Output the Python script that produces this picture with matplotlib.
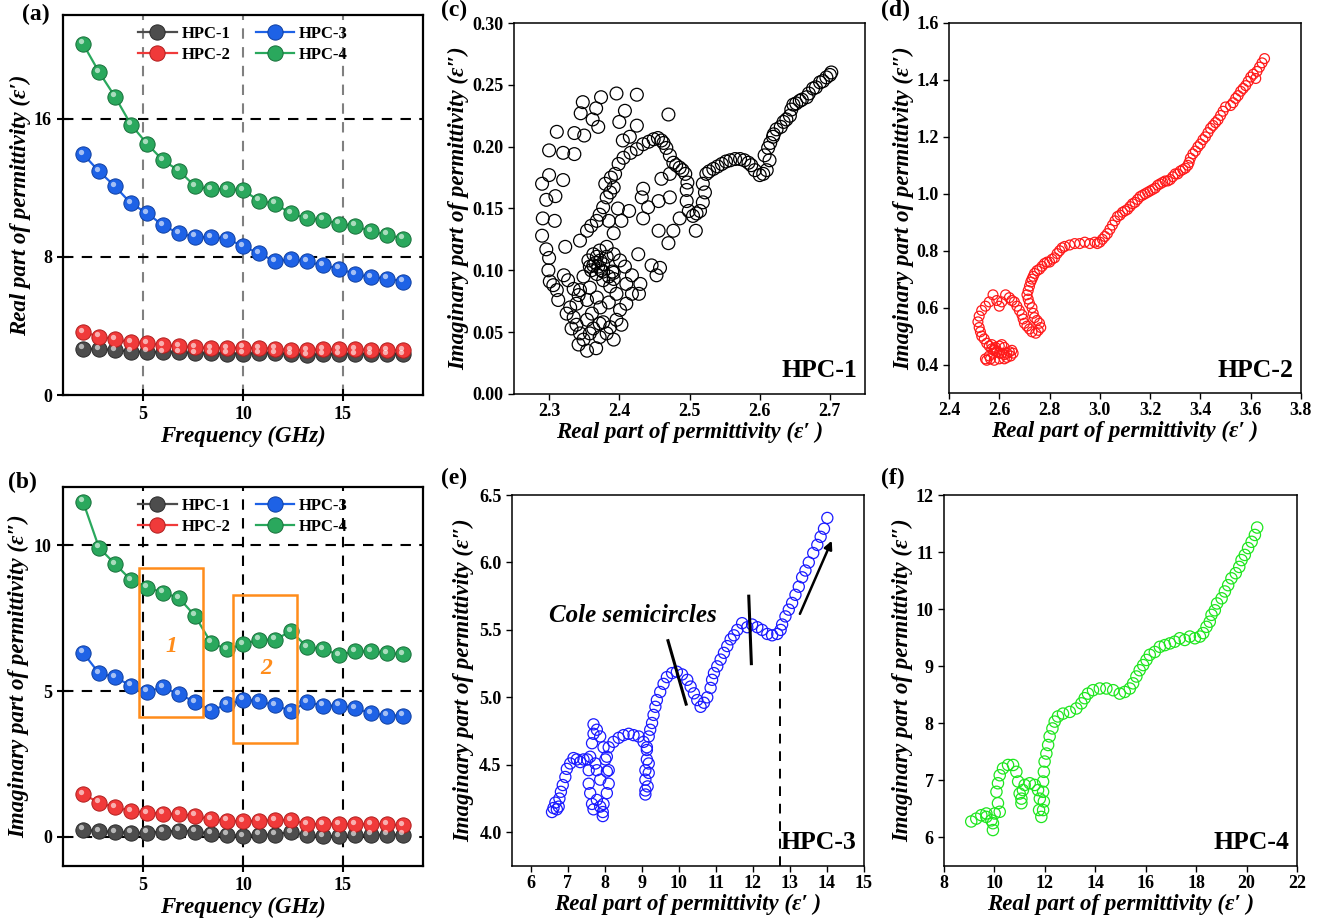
import numpy as np
import matplotlib
matplotlib.use("Agg")
import matplotlib.pyplot as plt
from matplotlib.transforms import offset_copy
from matplotlib.patches import Rectangle

plt.rcParams['font.family'] = ['Liberation Serif', 'DejaVu Serif']
plt.rcParams['font.weight'] = 'bold'

# ---- data: panels (a), (b) ----
freq = [2.0, 2.8, 3.6, 4.4, 5.2, 6.0, 6.8, 7.6, 8.4, 9.2, 10.0,
        10.8, 11.6, 12.4, 13.2, 14.0, 14.8, 15.6, 16.4, 17.2, 18.0]
samples = ['HPC-1', 'HPC-2', 'HPC-3', 'HPC-4']

real_hpc1 = [2.69, 2.65, 2.61, 2.51, 2.50, 2.47, 2.47, 2.42, 2.42, 2.39, 2.39,
             2.42, 2.42, 2.36, 2.32, 2.36, 2.36, 2.38, 2.36, 2.38, 2.36]
real_hpc2 = [3.65, 3.38, 3.23, 3.05, 3.00, 2.88, 2.82, 2.76, 2.72, 2.72, 2.74,
             2.72, 2.68, 2.59, 2.61, 2.64, 2.64, 2.64, 2.61, 2.59, 2.59]
real_hpc3 = [13.95, 12.95, 12.08, 11.09, 10.53, 9.82, 9.35, 9.16, 9.12, 9.06, 8.60,
             8.21, 7.73, 7.86, 7.73, 7.50, 7.32, 7.00, 6.82, 6.74, 6.57]
real_hpc4 = [20.33, 18.70, 17.27, 15.65, 14.55, 13.58, 12.99, 12.08, 11.92, 11.92, 11.86,
             11.25, 11.07, 10.51, 10.22, 10.14, 9.91, 9.80, 9.47, 9.28, 9.06]

imag_hpc1 = [0.25, 0.19, 0.17, 0.14, 0.14, 0.18, 0.21, 0.18, 0.11, 0.07, 0.03,
             0.07, 0.08, 0.17, 0.05, 0.03, 0.02, 0.05, 0.07, 0.07, 0.07]
imag_hpc2 = [1.47, 1.17, 1.01, 0.89, 0.82, 0.80, 0.78, 0.72, 0.60, 0.55, 0.53,
             0.56, 0.57, 0.58, 0.44, 0.44, 0.44, 0.44, 0.44, 0.43, 0.39]
imag_hpc3 = [6.32, 5.61, 5.48, 5.18, 4.98, 5.13, 4.89, 4.63, 4.33, 4.54, 4.70,
             4.66, 4.51, 4.32, 4.62, 4.50, 4.50, 4.41, 4.24, 4.16, 4.16]
imag_hpc4 = [11.50, 9.92, 9.36, 8.81, 8.55, 8.38, 8.19, 7.58, 6.66, 6.43, 6.61,
             6.76, 6.76, 7.06, 6.51, 6.44, 6.24, 6.36, 6.36, 6.30, 6.27]

# ---- data: Cole-Cole plots (eps', eps'') ----
cole_hpc1 = [
    (2.702, 0.260), (2.700, 0.258), (2.695, 0.256), (2.690, 0.253), (2.686, 0.252),
    (2.680, 0.248), (2.676, 0.247), (2.670, 0.243), (2.667, 0.240), (2.660, 0.238),
    (2.657, 0.237), (2.652, 0.235), (2.648, 0.234), (2.645, 0.230), (2.643, 0.225),
    (2.638, 0.222), (2.634, 0.220), (2.630, 0.216), (2.624, 0.214), (2.620, 0.210),
    (2.619, 0.208), (2.615, 0.203), (2.612, 0.199), (2.607, 0.193), (2.614, 0.189),
    (2.610, 0.181), (2.605, 0.178), (2.600, 0.177), (2.593, 0.181), (2.588, 0.185),
    (2.584, 0.187), (2.578, 0.189), (2.572, 0.190), (2.565, 0.190), (2.558, 0.189),
    (2.552, 0.188), (2.546, 0.186), (2.540, 0.184), (2.534, 0.182), (2.528, 0.180),
    (2.524, 0.178), (2.519, 0.170), (2.522, 0.163), (2.519, 0.155), (2.515, 0.148),
    (2.510, 0.146), (2.505, 0.144), (2.499, 0.148), (2.496, 0.156), (2.496, 0.165),
    (2.497, 0.171), (2.494, 0.178), (2.490, 0.181), (2.486, 0.183), (2.481, 0.185),
    (2.477, 0.187), (2.472, 0.193), (2.467, 0.199), (2.463, 0.203), (2.460, 0.205),
    (2.455, 0.207), (2.449, 0.206), (2.442, 0.204), (2.434, 0.202), (2.425, 0.198),
    (2.416, 0.195), (2.406, 0.191), (2.399, 0.186), (2.394, 0.178), (2.392, 0.167),
    (2.387, 0.163), (2.382, 0.159), (2.377, 0.151), (2.372, 0.145), (2.368, 0.140),
    (2.360, 0.136), (2.354, 0.132), (2.344, 0.124), (2.380, 0.170), (2.388, 0.175),
    (2.385, 0.140), (2.392, 0.130), (2.398, 0.150), (2.403, 0.140),
    (2.350, 0.209), (2.336, 0.211), (2.311, 0.212), (2.336, 0.194), (2.320, 0.195),
    (2.300, 0.197), (2.320, 0.173), (2.300, 0.177), (2.290, 0.170), (2.309, 0.160),
    (2.296, 0.157), (2.291, 0.142), (2.308, 0.140), (2.290, 0.128), (2.296, 0.117),
    (2.323, 0.119), (2.300, 0.110), (2.299, 0.100), (2.306, 0.088), (2.313, 0.076),
    (2.321, 0.096), (2.335, 0.085), (2.342, 0.080), (2.301, 0.091), (2.311, 0.084),
    (2.327, 0.092),
    (2.348, 0.236), (2.345, 0.227), (2.374, 0.240), (2.367, 0.231), (2.362, 0.222),
    (2.370, 0.216), (2.396, 0.243), (2.425, 0.242), (2.408, 0.229), (2.400, 0.220),
    (2.425, 0.217), (2.470, 0.226), (2.415, 0.208), (2.405, 0.205),
    (2.434, 0.166), (2.432, 0.159), (2.441, 0.151), (2.434, 0.142), (2.414, 0.148),
    (2.456, 0.132), (2.477, 0.132), (2.470, 0.122), (2.460, 0.174), (2.472, 0.178),
    (2.472, 0.159), (2.486, 0.142), (2.509, 0.132), (2.456, 0.156), (2.427, 0.113),
    (2.446, 0.104), (2.458, 0.102), (2.453, 0.096), (2.430, 0.089), (2.428, 0.081),
    (2.330, 0.070), (2.335, 0.062), (2.339, 0.056), (2.344, 0.049), (2.349, 0.044),
    (2.342, 0.040), (2.354, 0.035), (2.367, 0.037), (2.372, 0.046), (2.382, 0.049),
    (2.392, 0.044), (2.387, 0.054), (2.396, 0.060), (2.403, 0.056), (2.401, 0.068),
    (2.410, 0.073), (2.418, 0.081), (2.410, 0.089), (2.418, 0.096), (2.408, 0.103),
    (2.401, 0.108), (2.392, 0.113), (2.382, 0.119), (2.372, 0.116), (2.363, 0.113),
    (2.356, 0.108), (2.358, 0.103), (2.368, 0.097), (2.377, 0.092), (2.387, 0.087),
    (2.396, 0.081), (2.385, 0.074), (2.373, 0.070), (2.361, 0.065), (2.354, 0.060),
    (2.363, 0.053), (2.377, 0.058), (2.368, 0.078), (2.358, 0.086), (2.349, 0.095),
    (2.344, 0.084), (2.354, 0.076), (2.339, 0.073), (2.325, 0.065), (2.332, 0.053),
    (2.358, 0.049), (2.372, 0.057), (2.368, 0.111), (2.373, 0.108), (2.377, 0.105),
    (2.382, 0.111), (2.370, 0.103), (2.363, 0.104), (2.390, 0.099), (2.392, 0.093),
    (2.385, 0.095), (2.377, 0.099), (2.360, 0.100), (2.366, 0.106), (2.374, 0.100),
    (2.392, 0.098),
]

cole_hpc2 = [
    (3.655, 1.475), (3.645, 1.460), (3.635, 1.445), (3.625, 1.430), (3.620, 1.405),
    (3.610, 1.420), (3.600, 1.410), (3.590, 1.395), (3.580, 1.380), (3.570, 1.370),
    (3.560, 1.360), (3.550, 1.345), (3.540, 1.335), (3.530, 1.320), (3.520, 1.310),
    (3.500, 1.305), (3.490, 1.290), (3.480, 1.275), (3.470, 1.260), (3.460, 1.250),
    (3.450, 1.240), (3.440, 1.230), (3.430, 1.215), (3.420, 1.200), (3.410, 1.190),
    (3.400, 1.175), (3.390, 1.165), (3.380, 1.150), (3.370, 1.140), (3.360, 1.125),
    (3.355, 1.110), (3.350, 1.100), (3.340, 1.090), (3.330, 1.085), (3.320, 1.080),
    (3.310, 1.070), (3.300, 1.070), (3.290, 1.060), (3.280, 1.050), (3.270, 1.045),
    (3.260, 1.045), (3.250, 1.040), (3.240, 1.035), (3.230, 1.030), (3.220, 1.020),
    (3.210, 1.015), (3.200, 1.010), (3.190, 1.005), (3.180, 1.000), (3.170, 0.995),
    (3.160, 0.990), (3.150, 0.980), (3.140, 0.970), (3.130, 0.965), (3.120, 0.955),
    (3.110, 0.945), (3.100, 0.940), (3.090, 0.935), (3.080, 0.925), (3.070, 0.920),
    (3.060, 0.905), (3.050, 0.890), (3.040, 0.875), (3.030, 0.860), (3.020, 0.850),
    (3.010, 0.840), (3.000, 0.830), (2.990, 0.825), (2.980, 0.830), (2.960, 0.825),
    (2.940, 0.830), (2.920, 0.825), (2.900, 0.825), (2.880, 0.820), (2.860, 0.815),
    (2.850, 0.810), (2.840, 0.800), (2.830, 0.790), (2.820, 0.775), (2.810, 0.770),
    (2.800, 0.760), (2.790, 0.760), (2.780, 0.755), (2.770, 0.745), (2.760, 0.735),
    (2.750, 0.730), (2.740, 0.720), (2.735, 0.710), (2.730, 0.700), (2.725, 0.690),
    (2.720, 0.675), (2.715, 0.660), (2.710, 0.645), (2.715, 0.630), (2.720, 0.615),
    (2.730, 0.600), (2.735, 0.580), (2.740, 0.565), (2.750, 0.555), (2.760, 0.545),
    (2.765, 0.530), (2.755, 0.520), (2.745, 0.510), (2.730, 0.515), (2.720, 0.525),
    (2.710, 0.535), (2.700, 0.545), (2.695, 0.560), (2.690, 0.575), (2.680, 0.590),
    (2.670, 0.605), (2.660, 0.620), (2.650, 0.625), (2.640, 0.635), (2.625, 0.645),
    (2.610, 0.620), (2.600, 0.605), (2.590, 0.625), (2.575, 0.645), (2.560, 0.620),
    (2.545, 0.605), (2.530, 0.590), (2.520, 0.570), (2.515, 0.550), (2.520, 0.530),
    (2.525, 0.515), (2.530, 0.500), (2.540, 0.490), (2.550, 0.475), (2.560, 0.465),
    (2.570, 0.455), (2.580, 0.450), (2.590, 0.445), (2.600, 0.440), (2.610, 0.440),
    (2.620, 0.435), (2.630, 0.440), (2.640, 0.445), (2.650, 0.450), (2.655, 0.440),
    (2.645, 0.430), (2.630, 0.425), (2.620, 0.420), (2.600, 0.420), (2.580, 0.415),
    (2.565, 0.420), (2.550, 0.415), (2.545, 0.420), (2.560, 0.430), (2.575, 0.440),
    (2.580, 0.455), (2.570, 0.470), (2.585, 0.460), (2.600, 0.465), (2.610, 0.470),
    (2.620, 0.460),
]

cole_hpc3 = [
    (14.01, 6.33), (13.92, 6.25), (13.83, 6.19), (13.74, 6.13), (13.63, 6.07),
    (13.51, 6.00), (13.42, 5.94), (13.33, 5.89), (13.24, 5.82), (13.15, 5.76),
    (13.06, 5.70), (12.97, 5.65), (12.88, 5.60), (12.79, 5.54), (12.75, 5.50),
    (12.66, 5.47), (12.52, 5.46), (12.39, 5.47), (12.25, 5.50), (12.12, 5.52),
    (11.98, 5.54), (11.85, 5.52), (11.71, 5.55), (11.58, 5.50), (11.49, 5.46),
    (11.40, 5.43), (11.31, 5.38), (11.22, 5.33), (11.13, 5.28), (11.04, 5.23),
    (10.95, 5.18), (10.90, 5.13), (10.86, 5.07), (10.77, 5.00), (10.68, 4.96),
    (10.59, 4.93), (10.50, 4.98), (10.41, 5.03), (10.32, 5.08), (10.23, 5.13),
    (10.09, 5.17), (9.95, 5.19), (9.82, 5.18), (9.68, 5.15), (9.59, 5.10),
    (9.50, 5.04), (9.41, 4.98), (9.37, 4.93), (9.32, 4.87), (9.28, 4.81),
    (9.23, 4.76), (9.19, 4.71), (9.14, 4.63), (9.14, 4.54), (9.10, 4.46),
    (9.10, 4.39), (9.10, 4.31), (9.10, 4.28), (9.16, 4.34), (9.19, 4.44),
    (9.19, 4.51), (9.14, 4.61), (9.05, 4.67), (8.92, 4.71), (8.78, 4.72),
    (8.65, 4.73), (8.51, 4.72), (8.38, 4.70), (8.24, 4.67), (8.11, 4.63),
    (8.06, 4.56), (8.11, 4.46), (8.11, 4.36), (8.06, 4.29), (7.97, 4.21),
    (7.95, 4.15), (7.95, 4.12), (7.88, 4.19), (7.79, 4.24), (7.70, 4.17),
    (7.66, 4.21), (7.61, 4.29), (7.57, 4.36), (7.57, 4.46), (7.61, 4.56),
    (7.66, 4.66), (7.70, 4.73), (7.70, 4.80), (7.79, 4.76), (7.88, 4.71),
    (7.97, 4.63), (8.02, 4.54), (8.06, 4.45), (7.88, 4.39), (7.79, 4.46),
    (7.75, 4.51), (7.53, 4.54), (7.43, 4.54), (7.34, 4.52), (7.25, 4.54),
    (7.16, 4.55), (7.07, 4.51), (6.98, 4.47), (6.94, 4.41), (6.87, 4.35),
    (6.82, 4.30), (6.78, 4.25), (6.76, 4.19), (6.71, 4.17), (6.62, 4.18),
    (6.58, 4.15), (6.67, 4.22),
]

cole_hpc4 = [
    (20.42, 11.43), (20.33, 11.30), (20.20, 11.18), (20.06, 11.07), (19.93, 10.95),
    (19.80, 10.86), (19.71, 10.74), (19.57, 10.63), (19.40, 10.54), (19.27, 10.42),
    (19.14, 10.31), (19.01, 10.19), (18.83, 10.10), (18.74, 9.98), (18.61, 9.90),
    (18.54, 9.78), (18.41, 9.69), (18.28, 9.58), (18.15, 9.52), (17.95, 9.49),
    (17.75, 9.52), (17.55, 9.46), (17.35, 9.49), (17.15, 9.43), (16.96, 9.40),
    (16.76, 9.37), (16.56, 9.34), (16.36, 9.25), (16.16, 9.20), (16.03, 9.11),
    (15.90, 9.02), (15.76, 8.93), (15.63, 8.82), (15.50, 8.70), (15.37, 8.61),
    (15.17, 8.55), (14.97, 8.52), (14.71, 8.58), (14.44, 8.61), (14.18, 8.61),
    (13.91, 8.58), (13.71, 8.52), (13.58, 8.44), (13.45, 8.35), (13.25, 8.26),
    (12.99, 8.20), (12.72, 8.17), (12.52, 8.12), (12.39, 8.03), (12.30, 7.91),
    (12.19, 7.77), (12.13, 7.62), (12.06, 7.47), (11.99, 7.33), (11.96, 7.15),
    (11.93, 6.98), (11.93, 6.80), (11.96, 6.63), (11.93, 6.48), (11.86, 6.36),
    (11.77, 6.48), (11.80, 6.68), (11.73, 6.83), (11.60, 6.92), (11.40, 6.95),
    (11.20, 6.92), (11.13, 6.83), (11.07, 6.68), (11.07, 6.60), (11.00, 6.77),
    (10.94, 6.98), (10.87, 7.15), (10.74, 7.27), (10.54, 7.27), (10.34, 7.21),
    (10.21, 7.09), (10.14, 6.95), (10.08, 6.80), (10.14, 6.60), (10.21, 6.45),
    (10.01, 6.42), (9.94, 6.25), (9.94, 6.13), (9.88, 6.30), (9.68, 6.42),
    (9.48, 6.39), (9.28, 6.33), (9.08, 6.28), (9.68, 6.36),
]

W, H = 1322, 921
fig = plt.figure(figsize=(W / 100, H / 100), dpi=100)


def px_axes(left, top, right, bottom):
    return fig.add_axes([left / W, 1 - bottom / H, (right - left) / W, (bottom - top) / H])


def ball_line(ax, x, y, col, edge, label):
    ln, = ax.plot(x, y, '-', color=col, lw=1.6, marker='o', ms=11,
                  mfc=col, mec=edge, mew=0.7, label=label, zorder=3)
    hl = offset_copy(ax.transData, fig=fig, x=-1.7, y=1.7, units='points')
    ax.plot(x, y, 'o', ms=3.8, color='white', alpha=0.6, mec='none',
            transform=hl, zorder=4)
    return ln


lbl_font = dict(fontsize=16.5, fontweight='bold', fontstyle='italic')
tick_size = 13
colors = ['#4d4d4d', '#f03a3a', '#1e62e6', '#2aa85d']
edges = ['#2a2a2a', '#b01e1e', '#0f3fa0', '#17703a']

# ---- (a) real part ----
axa = px_axes(63, 15, 423, 395)
for v in (5, 10, 15):
    axa.axvline(v, color='#808080', lw=1.5, ls=(0, (5, 4)), zorder=1)
for v in (8, 16):
    axa.axhline(v, color='black', lw=1.5, ls=(0, (5, 4)), zorder=1)
for vals, c, e, s in zip([real_hpc1, real_hpc2, real_hpc3, real_hpc4], colors, edges, samples):
    ball_line(axa, freq, vals, c, e, s)
axa.set_xlim(1, 19)
axa.set_ylim(0, 22)
axa.set_xticks([5, 10, 15])
axa.set_yticks([0, 8, 16])
axa.set_xlabel('Frequency (GHz)', **lbl_font)
axa.set_ylabel('Real part of permittivity (ε′)', **lbl_font)

# ---- (b) imaginary part ----
axb = px_axes(63, 487, 423, 866)
for v in (5, 10, 15):
    axb.axvline(v, color='black', lw=1.5, ls=(0, (5, 4)), zorder=1)
for v in (0, 5, 10):
    axb.axhline(v, color='black', lw=1.5, ls=(0, (5, 4)), zorder=1)
for vals, c, e, s in zip([imag_hpc1, imag_hpc2, imag_hpc3, imag_hpc4], colors, edges, samples):
    ball_line(axb, freq, vals, c, e, s)
axb.set_xlim(1, 19)
axb.set_ylim(-1, 12)
axb.set_xticks([5, 10, 15])
axb.set_yticks([0, 5, 10])
axb.set_xlabel('Frequency (GHz)', **lbl_font)
axb.set_ylabel('Imaginary part of permittivity (ε″)', **lbl_font)
orange = '#ff8c1a'
axb.add_patch(Rectangle((4.78, 4.12), 8.02 - 4.78, 9.21 - 4.12, fill=False,
                        ec=orange, lw=1.8, zorder=5))
axb.add_patch(Rectangle((9.48, 3.23), 12.68 - 9.48, 8.29 - 3.23, fill=False,
                        ec=orange, lw=1.8, zorder=5))
axb.text(6.4, 6.53, '1', color=orange, fontsize=17, fontweight='bold',
         fontstyle='italic', ha='center', va='center')
axb.text(11.15, 5.76, '2', color=orange, fontsize=17, fontweight='bold',
         fontstyle='italic', ha='center', va='center')

for ax in (axa, axb):
    for sp in ax.spines.values():
        sp.set_linewidth(1.6)
    ax.tick_params(direction='inout', length=8, width=1.5, labelsize=tick_size, pad=4)
    ax.tick_params(axis='x', pad=4)
    ax.legend(loc='upper center', bbox_to_anchor=(0.5, 1.01), ncol=2, frameon=False,
              fontsize=12, handlelength=2.3, columnspacing=1.5, labelspacing=0.3,
              handletextpad=0.3)
    ax.xaxis.set_label_coords(0.5, -0.08)
axa.yaxis.set_label_coords(-0.09, 0.5)
axb.yaxis.set_label_coords(-0.095, 0.5)

# ---- (c)-(f) Cole-Cole ----
cole_specs = [
    (cole_hpc1, 'black', 'HPC-1', (514, 23, 865, 394), (2.25, 2.75), (0, 0.30),
     [2.3, 2.4, 2.5, 2.6, 2.7], np.arange(0, 0.301, 0.05), '%.1f', '%.2f', 85, -0.128),
    (cole_hpc2, '#ff1a1a', 'HPC-2', (949, 23, 1301, 393), (2.4, 3.8), (0.3, 1.6),
     np.arange(2.4, 3.81, 0.2), np.arange(0.4, 1.61, 0.2), '%.1f', '%.1f', 50, -0.1),
    (cole_hpc3, '#1a1aff', 'HPC-3', (512, 495, 864, 866), (5.5, 15), (3.75, 6.5),
     range(6, 16), np.arange(4.0, 6.51, 0.5), '%d', '%.1f', 64, -0.106),
    (cole_hpc4, '#1ee61e', 'HPC-4', (944, 495, 1297, 866), (8, 22), (5.5, 12),
     range(8, 23, 2), range(6, 13), '%d', '%d', 66, -0.086),
]
for pts, col, name, box, xl, yl, xt, yt, xf, yf, msz, ylx in cole_specs:
    ax = px_axes(*box)
    arr = np.array(pts)
    ax.scatter(arr[:, 0], arr[:, 1], s=msz, facecolors='none', edgecolors=col,
               linewidths=0.9, zorder=3)
    ax.set_xlim(*xl)
    ax.set_ylim(*yl)
    ax.set_xticks(xt)
    ax.set_yticks(yt)
    ax.xaxis.set_major_formatter(matplotlib.ticker.FormatStrFormatter(xf))
    ax.yaxis.set_major_formatter(matplotlib.ticker.FormatStrFormatter(yf))
    ax.tick_params(direction='out', length=4.5, width=1.0, labelsize=tick_size, pad=3)
    ax.tick_params(axis='x', pad=2)
    for sp in ax.spines.values():
        sp.set_linewidth(1.1)
    ax.set_xlabel('Real part of permittivity (ε′ )', **lbl_font)
    ax.set_ylabel('Imaginary part of permittivity (ε″)', **lbl_font)
    ax.xaxis.set_label_coords(0.5, -0.074)
    ax.yaxis.set_label_coords(ylx, 0.5)
    ax.text(0.978, 0.062, name, transform=ax.transAxes, ha='right', va='center',
            fontsize=18.5, fontweight='bold')
    if name == 'HPC-3':
        ax.text(8.77, 5.606, 'Cole semicircles', ha='center', va='center',
                fontsize=18, fontweight='bold', fontstyle='italic')
        ax.plot([9.71, 10.20], [5.42, 4.95], color='black', lw=2.2, zorder=5)
        ax.plot([11.89, 11.96], [5.75, 5.25], color='black', lw=2.2, zorder=5)
        ax.annotate('', xy=(14.16, 6.18), xytext=(13.24, 5.60),
                    arrowprops=dict(arrowstyle='-|>', lw=1.8, color='black',
                                    mutation_scale=12))
        ax.plot([12.73, 12.73], [3.75, 5.44], color='black', lw=1.4,
                ls=(0, (5, 4)), zorder=2)

# panel letters
for letter, (px, py) in zip('abcdef', [(22, 4), (8, 472), (441, 0), (881, 0), (441, 468), (881, 468)]):
    fig.text(px / W, 1 - py / H, '(%s)' % letter, fontsize=17, fontweight='bold',
             ha='left', va='top')

fig.savefig('out.png', dpi=100)
